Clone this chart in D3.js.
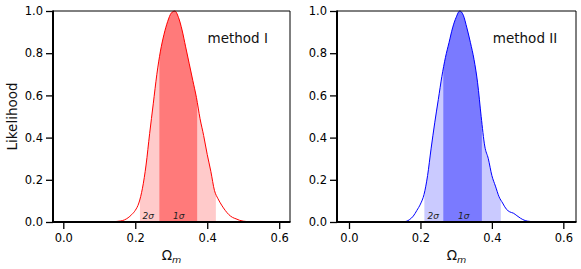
<!DOCTYPE html>
<html>
<head>
<meta charset="utf-8">
<script src="https://cdn.jsdelivr.net/npm/d3@7"></script>
<style>
  body { margin: 0; background: #fff; }
  svg text { font-family: "DejaVu Sans", sans-serif; }
</style>
</head>
<body>
<div id="chart"></div>
<script>

// omega_m grid and the two likelihood curves
var omegaGrid = [0.10,0.11,0.12,0.13,0.14,0.15,0.16,0.17,0.18,0.19,
                 0.20,0.21,0.22,0.23,0.24,0.25,0.26,0.27,0.28,0.29,
                 0.30,0.31,0.32,0.33,0.34,0.35,0.36,0.37,0.38,0.39,
                 0.40,0.41,0.42,0.43,0.44,0.45,0.46,0.47,0.48,0.49,
                 0.50,0.51,0.52,0.53,0.54,0.55];

var likeI = [0,0,0,0,0.001,0.003,0.005,0.01,0.02,0.035,
             0.055,0.09,0.16,0.27,0.42,0.56,0.70,0.81,0.89,0.95,
             0.99,1.0,0.97,0.91,0.83,0.75,0.67,0.59,0.49,0.41,
             0.32,0.24,0.15,0.11,0.08,0.055,0.035,0.022,0.015,0.008,
             0.004,0.002,0.001,0,0,0];

var likeII = [0,0,0,0,0,0.001,0.003,0.012,0.028,0.055,
              0.085,0.13,0.22,0.35,0.47,0.58,0.69,0.78,0.85,0.92,
              0.97,1.0,0.98,0.92,0.85,0.77,0.66,0.50,0.36,0.30,
              0.22,0.17,0.12,0.09,0.062,0.048,0.042,0.03,0.018,0.009,
              0.004,0.002,0.001,0,0,0];

// credible intervals [low, high]
var oneSigI = [0.267, 0.372];
var twoSigI = [0.213, 0.424];
var oneSigII = [0.264, 0.372];
var twoSigII = [0.211, 0.425];

var methodNames = ["method I", "method II"];
var sigmaLabels = ["2\u03c3", "1\u03c3"];

var xTicks = [0.0, 0.2, 0.4, 0.6];
var yTicks = [0.0, 0.2, 0.4, 0.6, 0.8, 1.0];

var svg = d3.select("#chart").append("svg")
    .attr("width", 581)
    .attr("height", 269);

var panels = [
    {like: likeI, one: oneSigI, two: twoSigI, name: methodNames[0],
     left: 53, right: 290, xdom: [-0.0286, 0.630],
     line: "#ff0000", dark: "#ff7a7a", pale: "#ffcaca", ylabel: true},
    {like: likeII, one: oneSigII, two: twoSigII, name: methodNames[1],
     left: 337, right: 576, xdom: [-0.0336, 0.6355],
     line: "#0000ff", dark: "#7a7aff", pale: "#cacaff", ylabel: false}
];

var plotTop = 11, plotBottom = 222;

panels.forEach(function(p, k) {
    var x = d3.scaleLinear().domain(p.xdom).range([p.left, p.right]);
    var y = d3.scaleLinear().domain([0, 1]).range([plotBottom, plotTop]);

    var pts = omegaGrid.map(function(o, i) { return {o: o, l: p.like[i]}; });

    var g = svg.append("g");

    var area = d3.area()
        .x(d => x(d.o))
        .y0(y(0))
        .y1(d => y(d.l))
        .curve(d3.curveMonotoneX);

    var line = d3.line()
        .x(d => x(d.o))
        .y(d => y(d.l))
        .curve(d3.curveMonotoneX);

    // shaded intervals, 2 sigma under 1 sigma
    [[p.two, p.pale], [p.one, p.dark]].forEach(function(iv, j) {
        var id = "clip" + k + "_" + j;
        svg.append("clipPath").attr("id", id)
            .append("rect")
            .attr("x", x(iv[0][0]))
            .attr("y", plotTop)
            .attr("width", x(iv[0][1]) - x(iv[0][0]))
            .attr("height", plotBottom - plotTop);
        g.append("path")
            .datum(pts)
            .attr("d", area)
            .attr("fill", iv[1])
            .attr("clip-path", "url(#" + id + ")");
    });

    // curve, clipped to the axes box
    svg.append("clipPath").attr("id", "box" + k)
        .append("rect")
        .attr("x", p.left).attr("y", plotTop - 2)
        .attr("width", p.right - p.left).attr("height", plotBottom - plotTop + 2);

    g.append("path")
        .datum(pts)
        .attr("d", line)
        .attr("fill", "none")
        .attr("stroke", p.line)
        .attr("stroke-width", 1)
        .attr("clip-path", "url(#box" + k + ")");

    // sigma labels
    var sigX = [0.236, 0.321];
    sigmaLabels.forEach(function(s, j) {
        g.append("text")
            .attr("x", x(sigX[j]))
            .attr("y", y(0) - 3.5)
            .attr("text-anchor", "middle")
            .attr("font-size", 9)
            .attr("font-style", "italic")
            .attr("fill", "#222")
            .text(s);
    });

    // axes
    var xAxis = svg.append("g")
        .attr("transform", "translate(0," + plotBottom + ")")
        .call(d3.axisBottom(x).tickValues(xTicks).tickFormat(d3.format(".1f"))
              .tickSize(7).tickPadding(5).tickSizeOuter(0));
    var yAxis = svg.append("g")
        .attr("transform", "translate(" + p.left + ",0)")
        .call(d3.axisLeft(y).tickValues(yTicks).tickFormat(d3.format(".1f"))
              .tickSize(7).tickPadding(3).tickSizeOuter(0));

    [xAxis, yAxis].forEach(function(a) {
        a.select(".domain").remove();
        a.selectAll(".tick line").attr("stroke", "#000").attr("stroke-width", 1.3);
        a.selectAll(".tick text")
            .attr("font-size", 11.5)
            .attr("font-family", "DejaVu Sans")
            .attr("fill", "#000");
    });

    // spines: top/right thin, left/bottom heavy
    svg.append("line").attr("x1", p.left).attr("x2", p.right)
        .attr("y1", plotTop).attr("y2", plotTop)
        .attr("stroke", "#000").attr("stroke-width", 1);
    svg.append("line").attr("x1", p.right).attr("x2", p.right)
        .attr("y1", plotTop).attr("y2", plotBottom)
        .attr("stroke", "#000").attr("stroke-width", 1);
    svg.append("line").attr("x1", p.left).attr("x2", p.left)
        .attr("y1", plotTop - 0.5).attr("y2", plotBottom + 1)
        .attr("stroke", "#000").attr("stroke-width", 2);
    svg.append("line").attr("x1", p.left - 1).attr("x2", p.right + 0.5)
        .attr("y1", plotBottom).attr("y2", plotBottom)
        .attr("stroke", "#000").attr("stroke-width", 2);

    // method name
    svg.append("text")
        .attr("x", p.left + 0.652 * (p.right - p.left))
        .attr("y", 43)
        .attr("font-size", 13.5)
        .attr("fill", "#111")
        .text(p.name);

    // x label: Omega_m
    var xl = svg.append("text")
        .attr("x", (p.left + p.right) / 2)
        .attr("y", 260)
        .attr("text-anchor", "middle")
        .attr("font-size", 13.5)
        .attr("fill", "#111");
    xl.append("tspan").text("\u03a9");
    xl.append("tspan").attr("font-size", 9.5).attr("font-style", "italic")
        .attr("dy", 3).text("m");

    if (p.ylabel) {
        svg.append("text")
            .attr("transform", "translate(17," + ((plotTop + plotBottom) / 2) + ") rotate(-90)")
            .attr("text-anchor", "middle")
            .attr("font-size", 13.5)
            .attr("fill", "#111")
            .text("Likelihood");
    }
});
</script>
</body>
</html>
